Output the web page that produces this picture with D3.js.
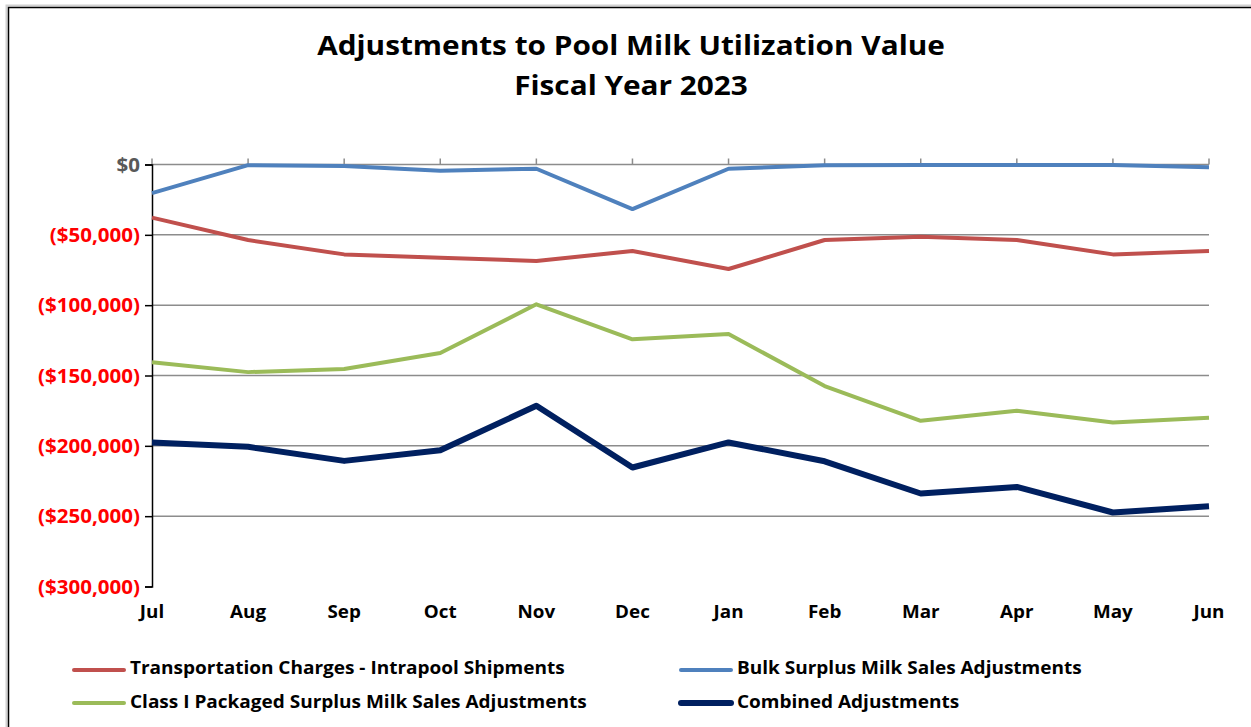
<!DOCTYPE html>
<html>
<head>
<meta charset="utf-8">
<script src="https://cdn.jsdelivr.net/npm/d3@7"></script>
<style>
  html, body { margin: 0; padding: 0; background: #fff; }
  svg { display: block; font-family: "Open Sans", Lato, sans-serif; }
</style>
</head>
<body>
<svg id="chart" width="1251" height="727"></svg>
<script>
// Fiscal year months
const months = ["Jul", "Aug", "Sep", "Oct", "Nov", "Dec", "Jan", "Feb", "Mar", "Apr", "May", "Jun"];

// Monthly adjustment values (dollars)
const transportation = [-37800, -53700, -63900, -66300, -68600, -61500, -74300, -53700, -51300, -53700, -63900, -61500];
const bulkSurplus    = [-20300, -500, -1000, -4400, -3000, -31700, -3000, -500, -300, -300, -300, -2000];
const classIPackaged = [-140500, -147600, -145400, -134000, -99400, -124300, -120500, -157500, -182200, -175100, -183400, -180100];
const combined       = [-197600, -200700, -210700, -203100, -171500, -215400, -197600, -211000, -233900, -229200, -247400, -242900];

// Value axis ticks
const yTicks = [0, -50000, -100000, -150000, -200000, -250000, -300000];

const titleLines = ["Adjustments to Pool Milk Utilization Value", "Fiscal Year 2023"];

const seriesList = [
  { name: "Transportation Charges - Intrapool Shipments", values: transportation, color: "#C0504D", width: 4 },
  { name: "Bulk Surplus Milk Sales Adjustments", values: bulkSurplus, color: "#4F81BD", width: 4 },
  { name: "Class I Packaged Surplus Milk Sales Adjustments", values: classIPackaged, color: "#9BBB59", width: 4 },
  { name: "Combined Adjustments", values: combined, color: "#002060", width: 6 }
];

const svg = d3.select("#chart");

// Place a text label at (x, y); the stretch transform is applied afterwards
function placeText(g, x, y, str, anchor) {
  return g.append("text")
    .attr("text-anchor", anchor)
    .attr("data-x", x).attr("data-y", y)
    .text(str);
}
// Stretch a group of labels horizontally by a common factor sx
function applyStretch(texts, sx) {
  texts.attr("transform", function () {
    const el = d3.select(this);
    return `translate(${el.attr("data-x")},${el.attr("data-y")}) scale(${sx},1)`;
  });
}
// Stretch so that the chosen reference label spans `width`
function stretchTo(texts, refNode, width) {
  applyStretch(texts, width / refNode.getComputedTextLength());
}

// Frame
svg.append("rect").attr("x", 6.5).attr("y", 5.5).attr("width", 1260).attr("height", 740)
  .attr("fill", "none").attr("stroke", "#d0d0d0").attr("stroke-width", 2);
svg.append("rect").attr("x", 8.5).attr("y", 7.5).attr("width", 1260).attr("height", 740)
  .attr("fill", "#fff").attr("stroke", "#000").attr("stroke-width", 1.5);

// Title
const titleG = svg.append("g").attr("font-weight", "bold").attr("font-size", 27).attr("fill", "#000");
const t1 = placeText(titleG, 631, 55, titleLines[0], "middle");
placeText(titleG, 631, 95, titleLines[1], "middle");
stretchTo(titleG.selectAll("text"), t1.node(), 628);

const x = d3.scalePoint().domain(months).range([152, 1209]);
const y = d3.scaleLinear().domain([-300000, 0]).range([586.5, 164.5]);

const fmt = v => v === 0 ? "$0" : "($" + d3.format(",")(Math.abs(v)) + ")";

// Gridlines (excluding the bottom)
svg.append("g").selectAll("line")
  .data(yTicks.filter(v => v > -300000))
  .join("line")
  .attr("x1", 152).attr("x2", 1209)
  .attr("y1", d => y(d)).attr("y2", d => y(d))
  .attr("stroke", "#8c8c8c").attr("stroke-width", 1.5);

// Category ticks along the zero line
svg.append("g").selectAll("line")
  .data(months)
  .join("line")
  .attr("x1", d => x(d)).attr("x2", d => x(d))
  .attr("y1", y(0) - 6).attr("y2", y(0))
  .attr("stroke", "#8c8c8c").attr("stroke-width", 1.5);

// Value axis (line and ticks from d3.axisLeft, labels drawn separately)
const yAxis = d3.axisLeft(y).tickValues(yTicks).tickFormat(fmt).tickSize(7).tickPadding(6);
const yg = svg.append("g").attr("transform", "translate(152,0)").call(yAxis);
yg.select(".domain").attr("stroke", "#000").attr("stroke-width", 1.5);
yg.selectAll(".tick line").attr("stroke", "#000").attr("stroke-width", 1.5);
yg.selectAll(".tick text").remove();
const yLab = svg.append("g").attr("font-size", 19).attr("font-weight", "bold");
let yRef = null;
yTicks.forEach(v => {
  const t = placeText(yLab, 140, y(v) + 7, fmt(v), "end")
    .attr("fill", v === 0 ? "#595959" : "#FF0000");
  if (v === -300000) yRef = t.node();
});
stretchTo(yLab.selectAll("text"), yRef, 102);

// Category labels
const xLab = svg.append("g").attr("font-size", 18).attr("font-weight", "bold").attr("fill", "#000");
let xRef = null;
months.forEach(m => {
  const t = placeText(xLab, x(m), 618, m, "middle");
  if (m === "Aug") xRef = t.node();
});
stretchTo(xLab.selectAll("text"), xRef, 36);

// Series lines
const line = d3.line().x((d, i) => x(months[i])).y(d => y(d));
svg.append("g").selectAll("path")
  .data(seriesList)
  .join("path")
  .attr("d", d => line(d.values))
  .attr("fill", "none")
  .attr("stroke", d => d.color)
  .attr("stroke-width", d => d.width)
  .attr("stroke-linejoin", "round");

// Legend
const legendPos = [
  { x: 74, y: 670, ty: 674 }, { x: 681, y: 670, ty: 674 },
  { x: 74, y: 703, ty: 708 }, { x: 681, y: 703, ty: 708 }
];
const legendG = svg.append("g");
seriesList.forEach((s, i) => {
  const p = legendPos[i];
  legendG.append("line")
    .attr("x1", p.x).attr("x2", p.x + 50).attr("y1", p.y).attr("y2", p.y)
    .attr("stroke", s.color).attr("stroke-width", s.width)
    .attr("stroke-linecap", "round");
});
const legendText = legendG.append("g").attr("font-size", 17).attr("font-weight", "bold").attr("fill", "#000");
let lRef = null;
seriesList.forEach((s, i) => {
  const p = legendPos[i];
  const t = placeText(legendText, p.x + 56, p.ty, s.name, "start");
  if (i === 0) lRef = t.node();
});
stretchTo(legendText.selectAll("text"), lRef, 435);
</script>
</body>
</html>
